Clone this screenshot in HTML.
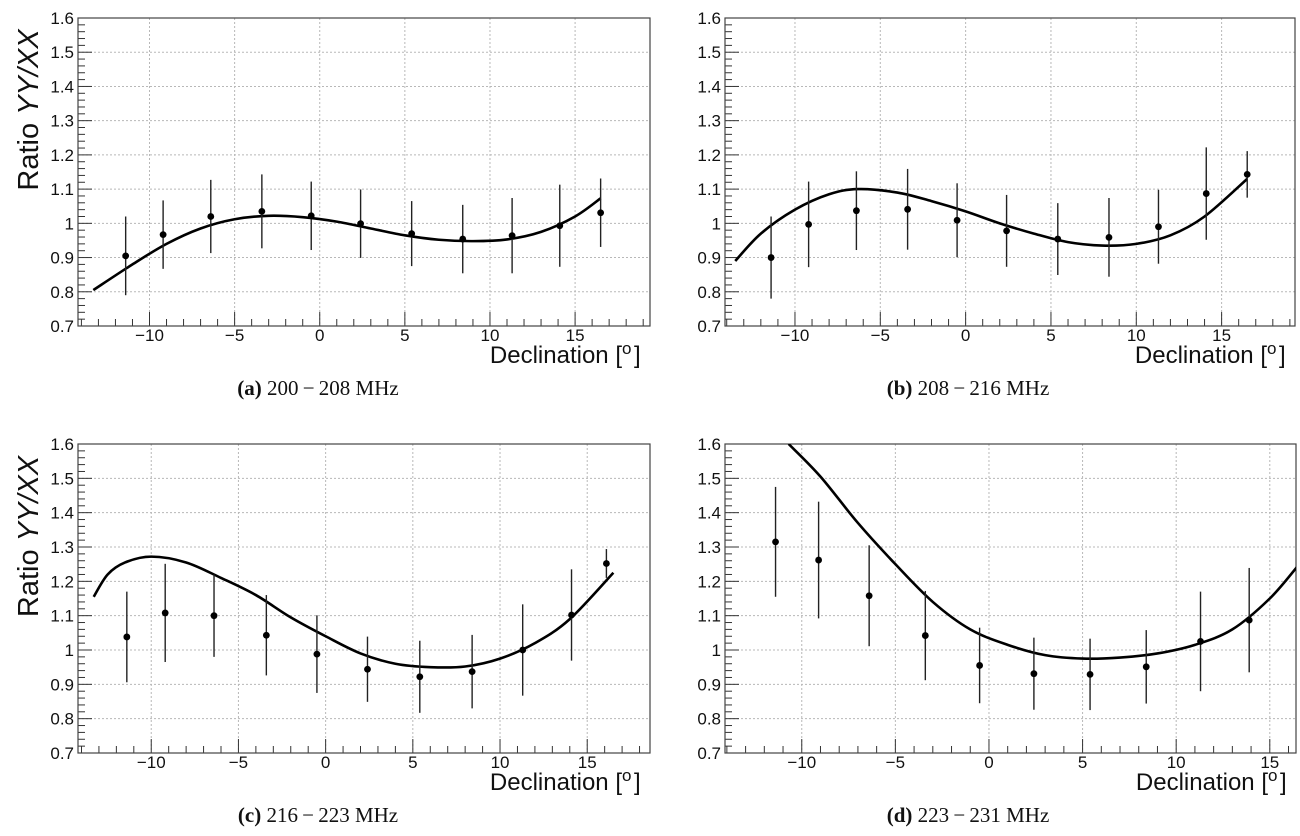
<!DOCTYPE html>
<html><head><meta charset="utf-8"><style>
body{margin:0;background:#fff;width:1300px;height:836px;overflow:hidden}
svg{display:block}
text{font-family:"Liberation Sans",sans-serif}
.cap{font-family:"Liberation Serif",serif;font-size:21px}
</style></head><body>
<svg id="fig" width="1300" height="836"></svg>
<script>
const yTicks=[0.7,0.8,0.9,1.0,1.1,1.2,1.3,1.4,1.5,1.6];
const yTickLabels=["0.7","0.8","0.9","1","1.1","1.2","1.3","1.4","1.5","1.6"];
const xTicks=[-10,-5,0,5,10,15];
const xTickLabels=["\u221210","\u22125","0","5","10","15"];
const ptsX_a=[-11.4,-9.2,-6.4,-3.4,-0.5,2.4,5.4,8.4,11.3,14.1,16.5];
const ptsY_a=[0.905,0.967,1.02,1.035,1.022,0.999,0.97,0.954,0.964,0.993,1.031];
const errs_a=[0.115,0.1,0.107,0.108,0.1,0.1,0.095,0.1,0.11,0.12,0.1];
const fitX_a=[-13.3,-11,-9,-7,-5,-3,-1,1,3,5,7,9,11,13,15,16.5];
const fitY_a=[0.805,0.88,0.94,0.985,1.012,1.022,1.018,1.005,0.985,0.965,0.952,0.948,0.953,0.975,1.02,1.073];
const ptsX_b=[-11.4,-9.2,-6.4,-3.4,-0.5,2.4,5.4,8.4,11.3,14.1,16.5];
const ptsY_b=[0.9,0.997,1.037,1.041,1.009,0.978,0.954,0.959,0.99,1.087,1.143];
const errs_b=[0.12,0.125,0.115,0.118,0.108,0.105,0.105,0.115,0.108,0.135,0.068];
const fitX_b=[-13.5,-12,-10,-8,-6.3,-4,-2,0,2,4,6,8,10,12,14,16.5];
const fitY_b=[0.89,0.97,1.04,1.085,1.1,1.09,1.065,1.035,1.0,0.97,0.945,0.935,0.94,0.965,1.02,1.13];
const ptsX_c=[-11.4,-9.2,-6.4,-3.4,-0.5,2.4,5.4,8.4,11.3,14.1,16.1];
const ptsY_c=[1.038,1.108,1.1,1.043,0.988,0.944,0.922,0.937,1.0,1.102,1.252];
const errs_c=[0.132,0.143,0.12,0.117,0.113,0.095,0.105,0.107,0.133,0.133,0.042];
const fitX_c=[-13.3,-12.5,-11.5,-10,-8,-6,-4,-2,0,2,4,6,8,10,12,14,16.5];
const fitY_c=[1.155,1.22,1.255,1.272,1.255,1.21,1.16,1.095,1.04,0.99,0.96,0.95,0.952,0.975,1.02,1.09,1.225];
const ptsX_d=[-11.4,-9.1,-6.4,-3.4,-0.5,2.4,5.4,8.4,11.3,13.9];
const ptsY_d=[1.315,1.262,1.158,1.042,0.955,0.931,0.929,0.951,1.025,1.087];
const errs_d=[0.16,0.17,0.147,0.13,0.11,0.105,0.104,0.107,0.145,0.152];
const fitX_d=[-10.7,-9,-7,-5,-3,-1,1,3,5,7,9,11,13,15,16.5];
const fitY_d=[1.6,1.505,1.37,1.25,1.14,1.06,1.015,0.985,0.975,0.978,0.99,1.015,1.06,1.15,1.245];

const NS="http://www.w3.org/2000/svg";
const svg=document.getElementById('fig');
function el(tag,attrs,parent,txt){const e=document.createElementNS(NS,tag);for(const k in attrs)e.setAttribute(k,attrs[k]);if(txt!==undefined)e.textContent=txt;(parent||svg).appendChild(e);return e;}

const panels=[
 {id:'a',L:78,R:650,T:18,B:326,x0:-14.2,x1:19.4,px:ptsX_a,py:ptsY_a,pe:errs_a,fx:fitX_a,fy:fitY_a,ytitle:true,cap:'200\u2009\u2212\u2009208 MHz',capX:318,capY:395},
 {id:'b',L:725,R:1295,T:18,B:326,x0:-14.1,x1:19.3,px:ptsX_b,py:ptsY_b,pe:errs_b,fx:fitX_b,fy:fitY_b,ytitle:false,cap:'208\u2009\u2212\u2009216 MHz',capX:968,capY:395},
 {id:'c',L:78,R:650,T:444,B:753,x0:-14.2,x1:18.6,px:ptsX_c,py:ptsY_c,pe:errs_c,fx:fitX_c,fy:fitY_c,ytitle:true,cap:'216\u2009\u2212\u2009223 MHz',capX:318,capY:822},
 {id:'d',L:725,R:1296,T:444,B:753,x0:-14.1,x1:16.4,px:ptsX_d,py:ptsY_d,pe:errs_d,fx:fitX_d,fy:fitY_d,ytitle:false,cap:'223\u2009\u2212\u2009231 MHz',capX:968,capY:822}
];

panels.forEach(p=>{
 const g=el('g',{});
 
 
 const X=v=>p.L+(v-p.x0)/(p.x1-p.x0)*(p.R-p.L);
 const Y=v=>p.B-(v-0.7)/(0.9)*(p.B-p.T);
 const clip=el('clipPath',{id:'clip'+p.id},g);
 el('rect',{x:p.L,y:p.T,width:p.R-p.L,height:p.B-p.T},clip);
 yTicks.forEach(v=>{const l=el('line',{x1:p.L,x2:p.R,y1:Y(v),y2:Y(v),stroke:'#b8b8b8','stroke-width':1,'stroke-dasharray':'2,2'},g);});
 xTicks.forEach(v=>{const l=el('line',{x1:X(v),x2:X(v),y1:p.T,y2:p.B,stroke:'#b8b8b8','stroke-width':1,'stroke-dasharray':'2,2'},g);});
 for(let v=0.7;v<=1.6001;v+=0.02){const major=Math.abs(v*10-Math.round(v*10))<0.01;el('line',{x1:p.L,x2:p.L+(major?14:7),y1:Y(v),y2:Y(v),stroke:'#333','stroke-width':1},g);}
 for(let v=Math.ceil(p.x0);v<=p.x1;v+=1){const major=v%5===0;el('line',{x1:X(v),x2:X(v),y1:p.B,y2:p.B-(major?14:7),stroke:'#333','stroke-width':1},g);}
 const fr=el('rect',{x:p.L,y:p.T,width:p.R-p.L,height:p.B-p.T,fill:'none',stroke:'#444','stroke-width':1.2},g);
 
 yTicks.forEach((v,i)=>{const t=el('text',{x:p.L-4,y:Y(v)+6,'text-anchor':'end','font-size':17,fill:'#111'},g,yTickLabels[i]);});
 xTicks.forEach((v,i)=>{const t=el('text',{x:X(v),y:p.B+15,'text-anchor':'middle','font-size':17,fill:'#111'},g,xTickLabels[i]);});
 const xt=el('text',{x:p.R-28,y:p.B+37,'text-anchor':'end','font-size':24,fill:'#111'},g,'Declination [');
 
 el('text',{x:p.R-28,y:p.B+28,'font-size':17,fill:'#111'},g,'o');
 el('text',{x:p.R-16,y:p.B+37,'font-size':24,fill:'#111'},g,']');
 if(p.ytitle){const cy=(p.T+p.B)/2-62;const yt=el('text',{x:0,y:0,transform:`translate(38,${cy}) rotate(-90)`,'text-anchor':'middle','font-size':29,fill:'#111'},g,'');
  
  el('tspan',{},yt,'Ratio ');el('tspan',{'font-style':'italic'},yt,'YY/XX');}
 const P=p.fx.map((x,i)=>[X(x),Y(p.fy[i])]);
 let d='M'+P[0][0]+','+P[0][1];
 for(let i=0;i<P.length-1;i++){const p0=P[Math.max(0,i-1)],p1=P[i],p2=P[i+1],p3=P[Math.min(P.length-1,i+2)];
  d+=` C${p1[0]+(p2[0]-p0[0])/6},${p1[1]+(p2[1]-p0[1])/6} ${p2[0]-(p3[0]-p1[0])/6},${p2[1]-(p3[1]-p1[1])/6} ${p2[0]},${p2[1]}`;}
 const fit=el('path',{d:d,fill:'none',stroke:'#000','stroke-width':2.6,'clip-path':`url(#clip${p.id})`},g);
 
 p.px.forEach((x,i)=>{
  const e=el('line',{x1:X(x),x2:X(x),y1:Y(p.py[i]-p.pe[i]),y2:Y(p.py[i]+p.pe[i]),stroke:'#222','stroke-width':1.4},g);
  
  const c=el('circle',{cx:X(x),cy:Y(p.py[i]),r:3.4,fill:'#000'},g);
  
 });
 const cap=el('text',{x:p.capX,y:p.capY,'text-anchor':'middle',class:'cap',fill:'#111'},g,'');
 
 el('tspan',{'font-weight':'bold'},cap,'('+p.id+') ');el('tspan',{},cap,p.cap);
});
</script>
</body></html>
